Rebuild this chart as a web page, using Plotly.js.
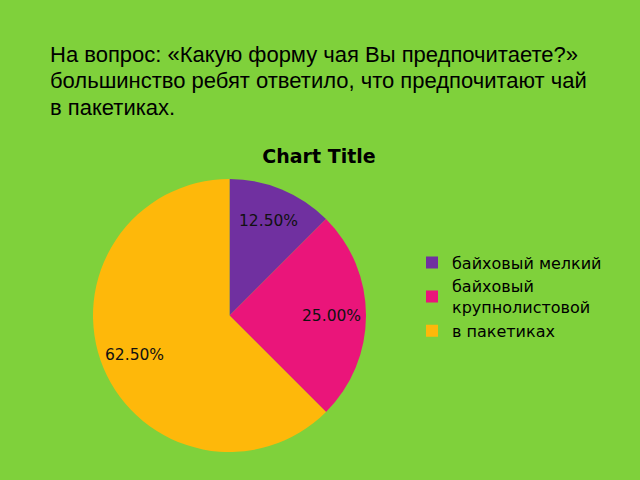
<!DOCTYPE html>
<html>
<head>
<meta charset="utf-8">
<script src="https://cdn.plot.ly/plotly-3.0.1.min.js"></script>
<style>
  html, body { margin: 0; padding: 0; background: #7fd13b; }
  #chart { width: 640px; height: 480px; }
</style>
</head>
<body>
<div id="chart"></div>
<script>
// data
const labels = ["байховый мелкий", "байховый<br>крупнолистовой", "в пакетиках"];
const values = [12.5, 25, 62.5];
const sliceColors = ["#7030a0", "#ea157a", "#feb80a"];

const headerLines = [
  "На вопрос: «Какую форму чая Вы предпочитаете?»",
  "большинство ребят ответило, что предпочитают чай",
  "в пакетиках.",
];

const W = 640, H = 480;
// pie placement (px)
const pieCx = 229.5, pieCy = 315.5, pieR = 136.5;
const labelFrac = 0.75;

var trace = {
  type: "pie",
  labels: labels,
  values: values,
  sort: false,
  direction: "clockwise",
  rotation: 0,
  marker: { colors: sliceColors, line: { width: 0 } },
  textinfo: "none",
  hoverinfo: "label+percent",
  domain: {
    x: [(pieCx - pieR) / W, (pieCx + pieR) / W],
    y: [1 - (pieCy + pieR) / H, 1 - (pieCy - pieR) / H],
  },
};

var annotations = [];

// header, one annotation per line
headerLines.forEach(function (line, i) {
  annotations.push({
    text: line,
    xref: "paper",
    yref: "paper",
    x: 48 / W,
    y: 1 - (40 + i * 26.3) / H,
    xanchor: "left",
    yanchor: "top",
    align: "left",
    showarrow: false,
    font: { family: "Liberation Sans", size: 22, color: "#000" },
  });
});

// percentage labels at the middle angle of each slice
var total = values.reduce(function (a, b) { return a + b; }, 0);
var cum = 0;
values.forEach(function (v) {
  var mid = (cum + v / 2) / total * 2 * Math.PI;
  cum += v;
  var px = pieCx + Math.sin(mid) * pieR * labelFrac;
  var py = pieCy - Math.cos(mid) * pieR * labelFrac;
  annotations.push({
    text: (v / total * 100).toFixed(2) + "%",
    xref: "paper",
    yref: "paper",
    x: px / W,
    y: 1 - py / H,
    xanchor: "center",
    yanchor: "middle",
    showarrow: false,
    font: { family: "DejaVu Sans", size: 15.5, color: "#111" },
  });
});

var layout = {
  width: W,
  height: H,
  margin: { l: 0, r: 0, t: 0, b: 0 },
  paper_bgcolor: "#7fd13b",
  plot_bgcolor: "#7fd13b",
  title: {
    text: "<b>Chart Title</b>",
    font: { family: "DejaVu Sans", size: 19, color: "#000" },
    x: 319 / W,
    xanchor: "center",
    y: 1 - 156 / H,
    yanchor: "middle",
  },
  showlegend: true,
  legend: {
    x: 412 / W,
    xanchor: "left",
    y: 1 - 245.5 / H,
    yanchor: "top",
    bgcolor: "rgba(0,0,0,0)",
    font: { family: "DejaVu Sans", size: 16, color: "#000" },
    itemwidth: 30,
    tracegroupgap: 0,
  },
  annotations: annotations,
};

Plotly.newPlot("chart", [trace], layout, { staticPlot: true });
</script>
</body>
</html>
